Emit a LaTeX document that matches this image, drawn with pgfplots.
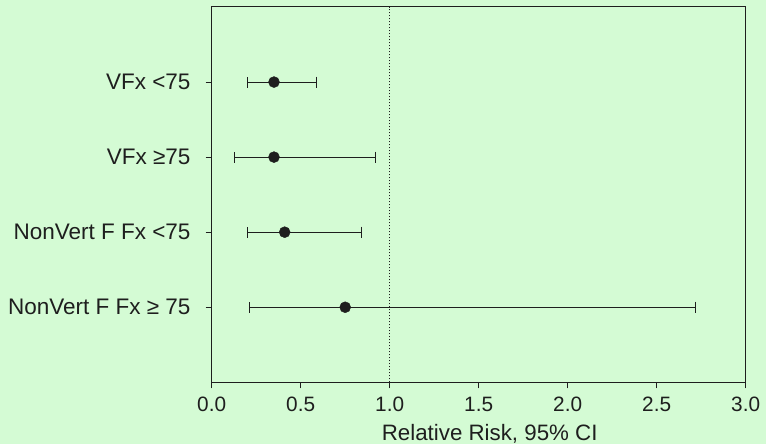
\documentclass[border=0pt]{standalone}
\usepackage{fontspec}
\setmainfont{Liberation Sans}
\usepackage{pgfplots}
\pgfplotsset{compat=1.18}
\usetikzlibrary{backgrounds}
\definecolor{bg}{RGB}{212,251,212}
\definecolor{ink}{RGB}{30,30,30}
\pgfplotstableread{
row rr  em   ep
4   0.35 0.15 0.24
3   0.35 0.22 0.57
2   0.41 0.21 0.43
1   0.75 0.54 1.97
}\rrdata
\begin{document}
\begin{tikzpicture}[x=1pt,y=1pt]
\begin{axis}[
  width=534pt, height=375.3pt, scale only axis,
  xmin=0, xmax=3, ymin=0, ymax=5,
  xtick={0,0.5,1,1.5,2,2.5,3},
  xticklabels={0.0,0.5,1.0,1.5,2.0,2.5,3.0},
  ytick={1,2,3,4},
  yticklabels={NonVert F Fx ≥ 75, NonVert F Fx <75, VFx ≥75, VFx <75},
  tick align=outside, major tick length=6pt,
  xtick pos=lower, ytick pos=left,
  axis line style={ink, line width=1pt},
  tick style={ink, line width=1pt},
  xticklabel style={font=\fontsize{20.8}{24}\selectfont, text=ink, inner sep=0pt, anchor=north, yshift=-8.4pt},
  yticklabel style={font=\fontsize{22.5}{26}\selectfont, text=ink, inner sep=0pt, anchor=east, xshift=-15pt},
  xlabel={Relative Risk, 95\% CI},
  xlabel style={font=\fontsize{22.3}{26}\selectfont, text=ink, at={(axis description cs:0.5,0)}, anchor=base, xshift=11pt, yshift=-58.3pt},
  clip=false,
]
\addplot[ink, line width=0.7pt, dash pattern=on 0.8pt off 2.2pt] coordinates {(1,0) (1,5)};
\addplot[ink, only marks, mark=*, mark size=5.5pt, mark options={fill=ink, draw=ink},
  error bars/.cd, x dir=both, x explicit,
  error bar style={ink, line width=0.95pt},
  error mark options={rotate=90, ink, mark size=5.5pt, line width=0.95pt}]
  table[x=rr, y=row, x error minus=em, x error plus=ep] {\rrdata};
\coordinate (SW) at (rel axis cs:0,0);
\end{axis}
\begin{scope}[on background layer, shift={(SW)}]
\fill[bg] (-211.7,-61.7) rectangle (554.3,382.3);
\end{scope}
\pgfresetboundingbox
\begin{scope}[shift={(SW)}]
\useasboundingbox (-211.7,-61.7) rectangle (554.3,382.3);
\end{scope}
\end{tikzpicture}
\end{document}
